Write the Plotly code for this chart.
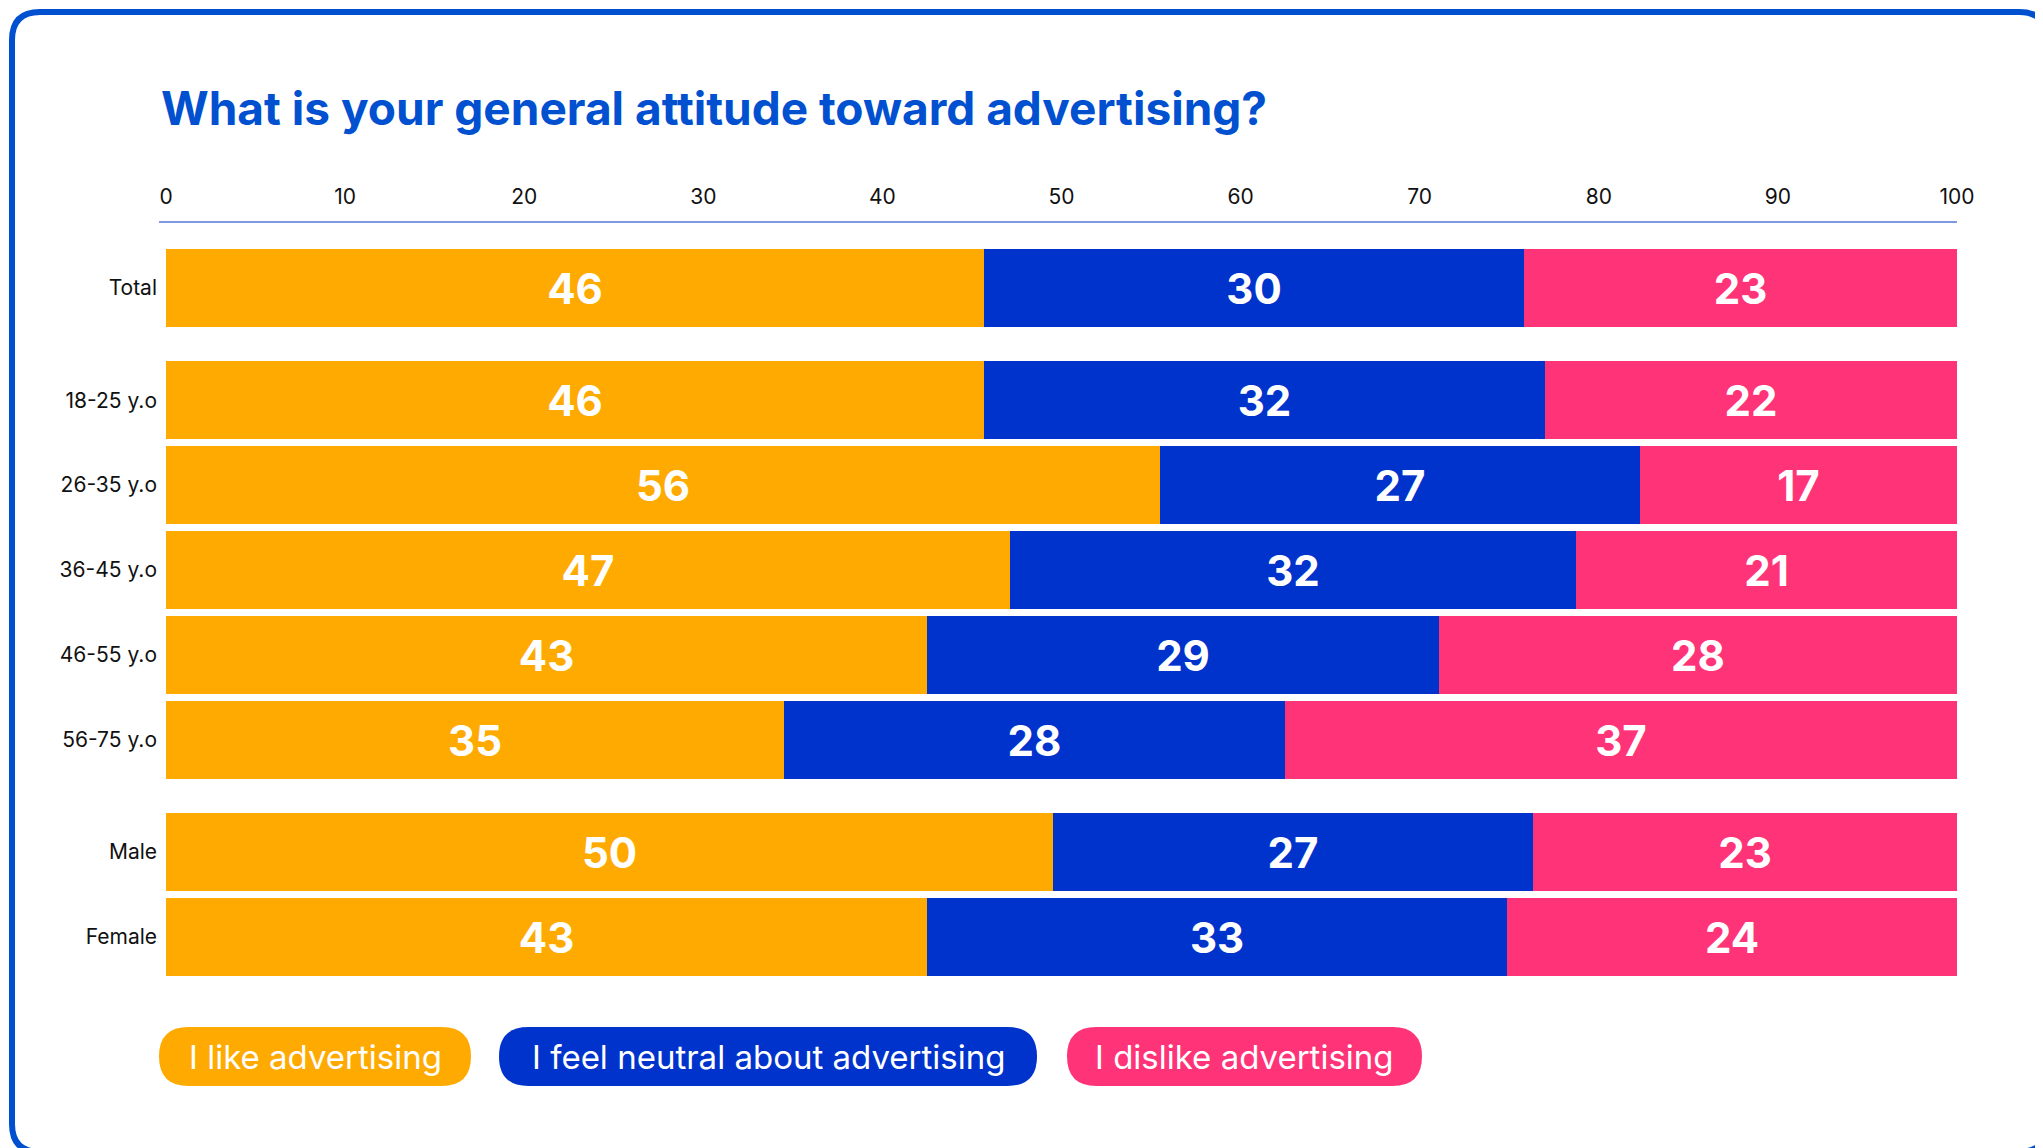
import plotly.graph_objects as go

categories = ["Total", "18-25 y.o", "26-35 y.o", "36-45 y.o", "46-55 y.o", "56-75 y.o", "Male", "Female"]
like = [45.7, 45.7, 55.5, 47.1, 42.5, 34.5, 49.5, 42.5]
neutral = [30.1, 31.3, 26.8, 31.6, 28.6, 28.0, 26.8, 32.4]
dislike = [24.2, 23.0, 17.7, 21.3, 28.9, 37.5, 23.7, 25.1]
like_lbl = [46, 46, 56, 47, 43, 35, 50, 43]
neutral_lbl = [30, 32, 27, 32, 29, 28, 27, 33]
dislike_lbl = [23, 22, 17, 21, 28, 37, 23, 24]
ypos = [0, 1.32, 2.32, 3.32, 4.32, 5.32, 6.64, 7.64]
series = [("I like advertising", like, like_lbl, "#FFAA00"),
          ("I feel neutral about advertising", neutral, neutral_lbl, "#0033CC"),
          ("I dislike advertising", dislike, dislike_lbl, "#FF3377")]

W, H = 2043, 1148
L, R, T, B = 158, 94, 241, 180
PW, PH = W - L - R, H - T - B
def px(x): return (x - L) / PW
def py(y): return (H - B - y) / PH

fig = go.Figure()
for name, vals, lbls, col in series:
    fig.add_trace(go.Bar(y=ypos, x=vals, orientation="h", name=name, marker=dict(color=col, line=dict(width=0)),
                         width=0.92, text=[str(v) for v in lbls], textposition="inside", insidetextanchor="middle",
                         textfont=dict(color="white", size=42, family="Inter", weight="bold"), showlegend=False))

def rrect(x0, y0, x1, y1, r):
    pts = (f"M {px(x0+r)},{py(y0)} L {px(x1-r)},{py(y0)} Q {px(x1)},{py(y0)} {px(x1)},{py(y0+r)} "
           f"L {px(x1)},{py(y1-r)} Q {px(x1)},{py(y1)} {px(x1-r)},{py(y1)} L {px(x0+r)},{py(y1)} "
           f"Q {px(x0)},{py(y1)} {px(x0)},{py(y1-r)} L {px(x0)},{py(y0+r)} Q {px(x0)},{py(y0)} {px(x0+r)},{py(y0)} Z")
    return pts

shapes = [dict(type="path", xref="paper", yref="paper", path=rrect(4, 4, 2039, 1144, 28),
               line=dict(color="#0050D0", width=6), fillcolor="rgba(0,0,0,0)", layer="below"),
          dict(type="line", xref="paper", yref="paper", x0=px(151), x1=1, y0=py(214), y1=py(214),
               line=dict(color="#5577DD", width=1.5))]
annotations = []
pills = [(151, 463), (491, 1029), (1059, 1414)]
for (x0, x1), (name, _, _, col) in zip(pills, series):
    shapes.append(dict(type="path", xref="paper", yref="paper", path=rrect(x0, 1019, x1, 1078, 29.5),
                       line=dict(width=0), fillcolor=col))
    annotations.append(dict(xref="paper", yref="paper", x=px((x0 + x1) / 2), y=py(1048.5), text=name,
                            showarrow=False, font=dict(color="white", size=33, family="Inter"),
                            xanchor="center", yanchor="middle"))
annotations.append(dict(xref="paper", yref="paper", x=px(151), y=py(100), text="<b>What is your general attitude toward advertising?</b>",
                        showarrow=False, xanchor="left", yanchor="middle",
                        font=dict(color="#0050D0", size=46, family="Inter")))

fig.update_layout(width=W, height=H, margin=dict(l=L, r=R, t=T, b=B), barmode="stack", bargap=0,
                  plot_bgcolor="white", paper_bgcolor="white", shapes=shapes, annotations=annotations,
                  xaxis=dict(range=[0, 100], side="top", tickvals=list(range(0, 101, 10)), showgrid=False,
                             zeroline=False, showline=False, ticks="", ticklabelstandoff=40,
                             tickfont=dict(size=21, family="Inter", color="#111")),
                  yaxis=dict(range=[8.10, -0.46], tickvals=ypos, ticktext=categories, showgrid=False,
                             zeroline=False, ticks="", ticklabelstandoff=8,
                             tickfont=dict(size=21, family="Inter", color="#111")))
fig.write_html("out.html")
